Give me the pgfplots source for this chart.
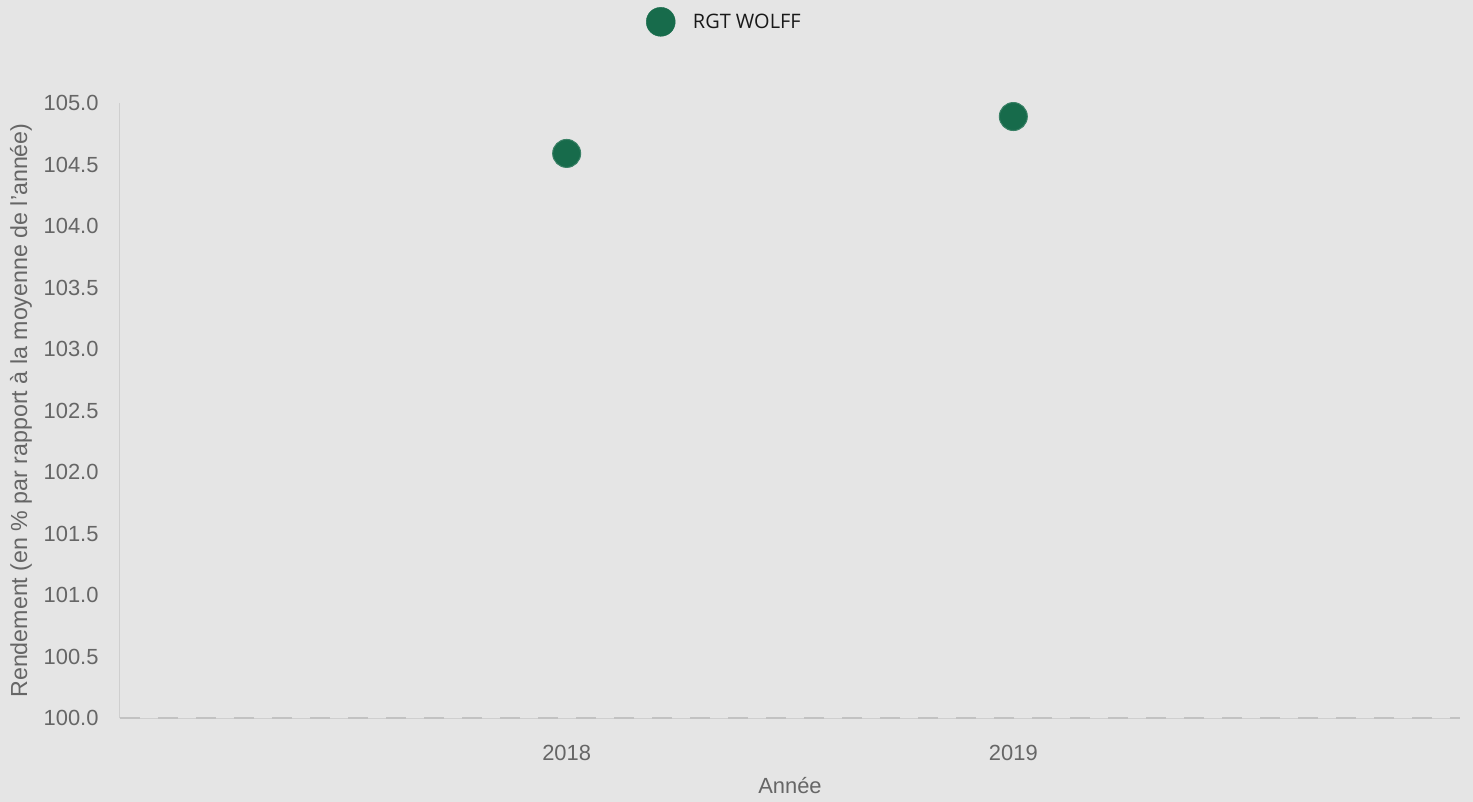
\documentclass[border=0pt]{standalone}
\usepackage{fontspec}
\setmainfont{Liberation Sans}
\newfontfamily\legfont{Open Sans}
\usepackage{pgfplots}
\pgfplotsset{compat=1.18}
\definecolor{bg}{HTML}{E5E5E5}
\definecolor{mk}{HTML}{176B4B}
\definecolor{tx}{HTML}{666666}
\definecolor{axl}{HTML}{CFCFCF}
\definecolor{dsh}{HTML}{C2C2C2}
\begin{document}
\begin{tikzpicture}
\fill[bg] (-120bp,-84bp) rectangle (1353bp,718bp);
\useasboundingbox (-120bp,-84bp) rectangle (1353bp,718bp);
\begin{axis}[
  scale only axis,
  width=1340bp, height=615bp,
  xmin=-1, xmax=2, ymin=100, ymax=105,
  xtick={0,1}, xticklabels={2018,2019},
  ytick={100,100.5,...,105},
  yticklabel style={/pgf/number format/fixed,/pgf/number format/fixed zerofill,/pgf/number format/precision=1},
  /pgf/number format/assume math mode=true,
  axis x line*=bottom, axis y line*=left,
  axis line style={draw=axl, line width=1bp},
  x axis line style={-}, y axis line style={-},
  major tick length=0pt,
  tick label style={font=\fontsize{22}{26}\selectfont, text=tx},
  xticklabel style={yshift=-24bp},
  yticklabel style={xshift=-18bp},
  ylabel={Rendement (en \% par rapport à la moyenne de l'année)},
  xlabel={Année},
  every axis y label/.style={at={(axis description cs:0,0.5)}, xshift=-99bp, rotate=90, anchor=center, font=\fontsize{23.3}{27}\selectfont, text=tx},
  every axis x label/.style={at={(axis description cs:0.5,0)}, yshift=-68bp, anchor=center, font=\fontsize{22}{26}\selectfont, text=tx},
  legend style={at={(axis description cs:0.451,1.132)}, anchor=center, draw=none, fill=none,
    font=\legfont\fontsize{20}{24}\selectfont, text=black!90},
  legend image code/.code={\fill[mk] (0.2cm,0cm) circle (14.5bp); \path (0.2cm,0cm) ++(30bp,0bp);},
  clip=false,
]
\addplot[only marks, mark=*, mark size=14bp, mark options={fill=mk, draw=mk!85!white, line width=1bp}]
  coordinates {(0,104.59) (1,104.89)};
\addlegendentry{RGT WOLFF}
\draw[dsh, dash pattern=on 20bp off 18bp, line width=1.2bp] (axis cs:-1,100) -- (axis cs:2,100);
\end{axis}
\end{tikzpicture}
\end{document}
